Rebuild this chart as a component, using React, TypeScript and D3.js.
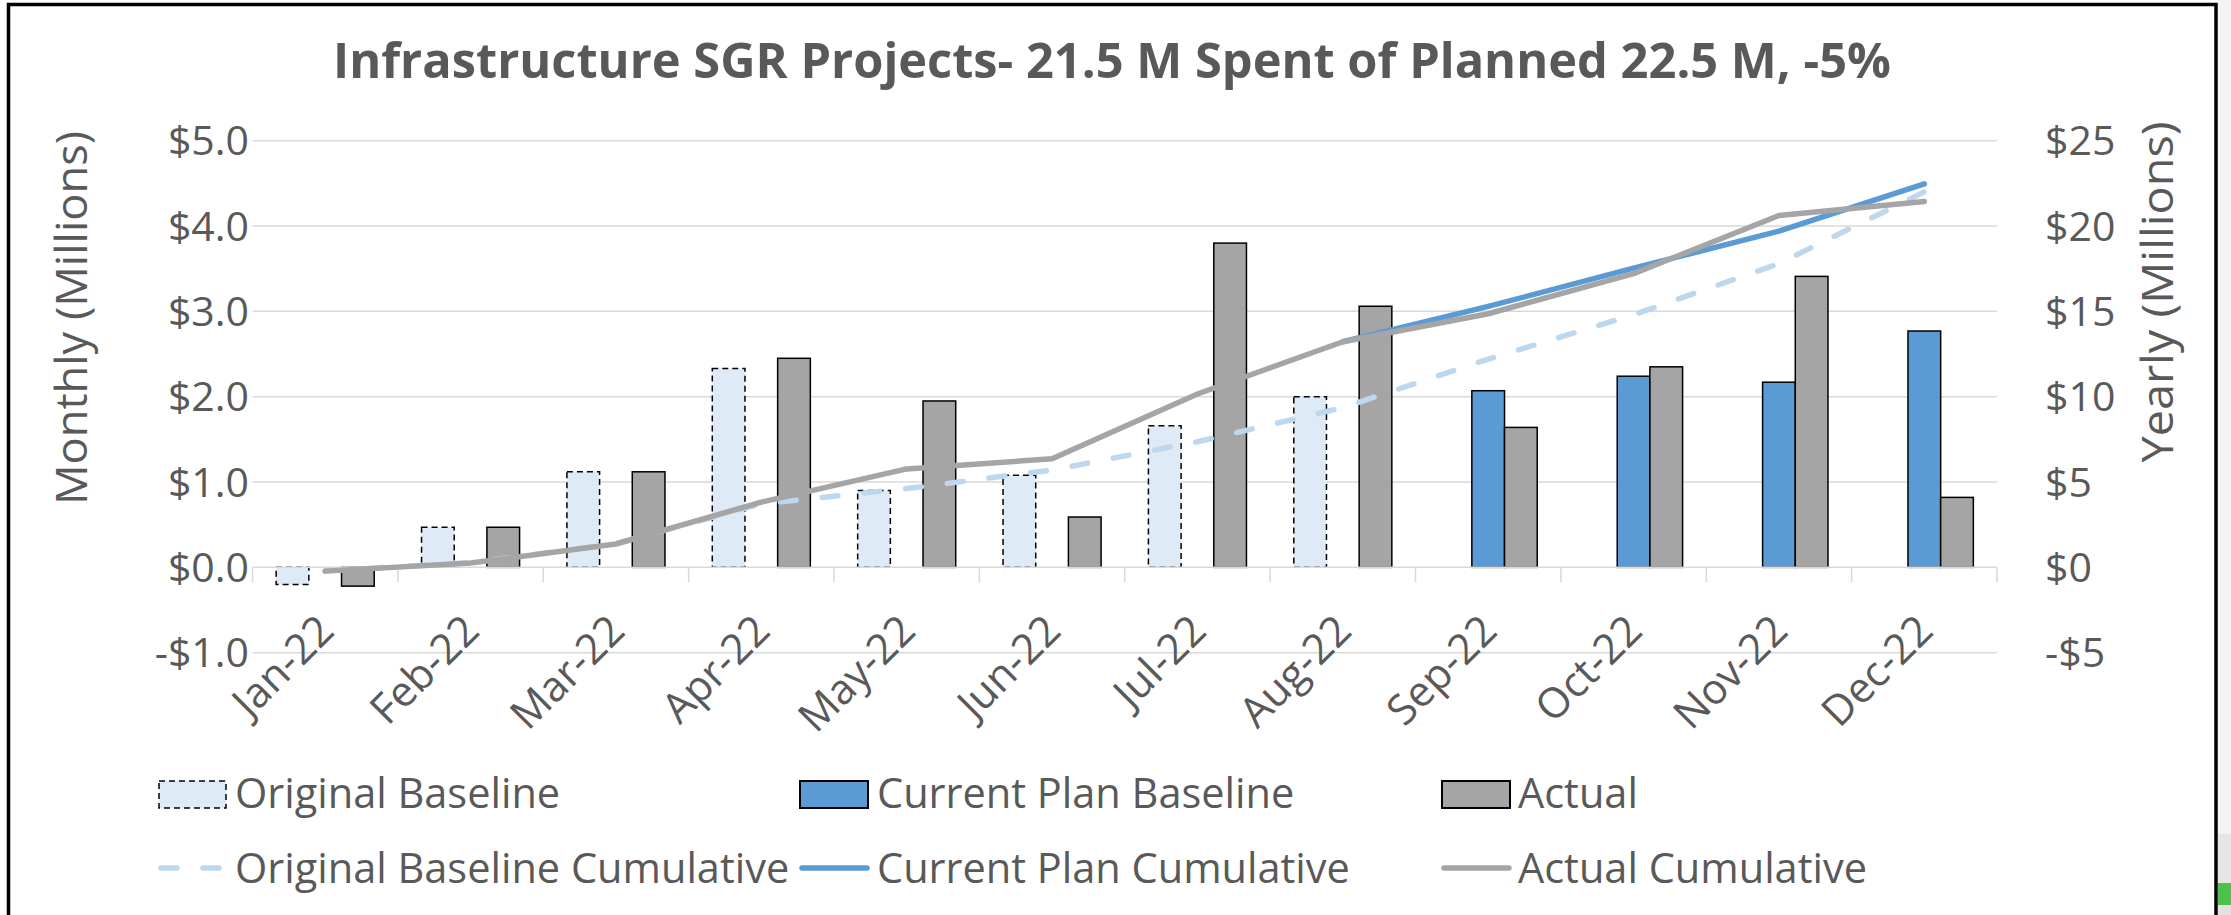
import * as d3 from 'd3';
import React from 'react';

// monthly values in $M
const months = ['Jan-22', 'Feb-22', 'Mar-22', 'Apr-22', 'May-22', 'Jun-22', 'Jul-22', 'Aug-22', 'Sep-22', 'Oct-22', 'Nov-22', 'Dec-22'];
const originalBaseline = [-0.2, 0.47, 1.12, 2.33, 0.9, 1.08, 1.66, 2.0, null, null, null, null];
const currentPlanBaseline = [null, null, null, null, null, null, null, null, 2.07, 2.24, 2.17, 2.77];
const actual = [-0.22, 0.47, 1.12, 2.45, 1.95, 0.59, 3.8, 3.06, 1.64, 2.35, 3.41, 0.82];

// cumulative values in $M (right axis)
const originalCumulative = [-0.2, 0.27, 1.39, 3.72, 4.62, 5.7, 7.36, 9.36, 12.2, 14.8, 17.8, 22.0];
const currentPlanCumulative = [null, null, null, null, null, null, null, 13.22, 15.29, 17.53, 19.7, 22.47];
const actualCumulative = [-0.22, 0.25, 1.37, 3.82, 5.77, 6.36, 10.16, 13.22, 14.86, 17.21, 20.62, 21.44];

const leftTicks = [-1, 0, 1, 2, 3, 4, 5];
const rightTicks = [-5, 0, 5, 10, 15, 20, 25];
const barSeries = ['Original Baseline', 'Current Plan Baseline', 'Actual'];

const textColor = '#595959';
const gridColor = '#d9d9d9';
const font = '"Open Sans", sans-serif';

export default function App() {
  const W = 2231, H = 915;
  const left = 252.5, right = 1997, top = 140.7, bottom = 652.7;

  const x = d3.scaleBand<string>().domain(months).range([left, right]).paddingInner(0).paddingOuter(0);
  const xs = d3.scaleBand<string>().domain(barSeries).range([0, x.bandwidth()]).paddingInner(0).paddingOuter(0.724);
  const yL = d3.scaleLinear().domain([-1, 5]).range([bottom, top]);
  const yR = d3.scaleLinear().domain([-5, 25]).range([bottom, top]);
  const cx = (i: number) => (x(months[i]) as number) + x.bandwidth() / 2;

  const line = d3.line<number | null>()
    .defined(d => d != null)
    .x((d, i) => cx(i))
    .y(d => yR(d as number));

  const barData: { key: string; vals: (number | null)[]; fill: string; dash?: string }[] = [
    { key: 'Original Baseline', vals: originalBaseline, fill: '#deebf7', dash: '6 4' },
    { key: 'Current Plan Baseline', vals: currentPlanBaseline, fill: '#5b9bd5' },
    { key: 'Actual', vals: actual, fill: '#a5a5a5' },
  ];

  const fmtL = (v: number) => (v < 0 ? '-$' : '$') + Math.abs(v).toFixed(1);
  const fmtR = (v: number) => (v < 0 ? '-$' : '$') + Math.abs(v);

  const boundaries = months.map(m => x(m) as number).concat([right]);

  return (
    <svg width={W} height={H} style={{ position: 'absolute', left: 0, top: 0, background: '#fff' }} fontFamily={font}>
      <rect x={0} y={0} width={W} height={H} fill="#fff" />
      {/* strip outside the chart frame */}
      <rect x={2218} y={0} width={13} height={834} fill="#f4f4f4" />
      <rect x={2218} y={834} width={13} height={49} fill="#e6e6e6" />
      <rect x={2218} y={883} width={13} height={22} fill="#4cc24c" />
      <rect x={2218} y={905} width={13} height={10} fill="#e2e2e2" />
      <path d={`M8.5,${H} V4.5 H2216 V${H}`} fill="none" stroke="#000" strokeWidth={3.5} />

      <text x={1112} y={78} textAnchor="middle" fontSize={49} fontWeight={700} fill={textColor}
        textLength={1558} lengthAdjust="spacingAndGlyphs">
        Infrastructure SGR Projects- 21.5 M Spent of Planned 22.5 M, -5%
      </text>

      {/* gridlines */}
      {leftTicks.filter(t => t !== 0).map(t => (
        <line key={t} x1={left} x2={right} y1={yL(t)} y2={yL(t)} stroke={gridColor} strokeWidth={1.5} />
      ))}

      {/* bars */}
      {barData.map(s => (
        <g key={s.key}>
          {s.vals.map((v, i) => v == null ? null : (
            <rect key={i}
              x={(x(months[i]) as number) + (xs(s.key) as number)}
              y={Math.min(yL(v), yL(0))}
              width={xs.bandwidth()}
              height={Math.abs(yL(v) - yL(0))}
              fill={s.fill} stroke="#000" strokeWidth={1.5}
              strokeDasharray={s.dash} />
          ))}
        </g>
      ))}

      {/* category axis */}
      <line x1={left} x2={right} y1={yL(0)} y2={yL(0)} stroke={gridColor} strokeWidth={1.5} />
      {boundaries.map((b, i) => (
        <line key={i} x1={b} x2={b} y1={yL(0)} y2={yL(0) + 15} stroke={gridColor} strokeWidth={1.5} />
      ))}

      {/* cumulative lines */}
      <path d={line(originalCumulative) || ''} fill="none" stroke="#bdd7ee" strokeWidth={5.5}
        strokeDasharray="16 26" strokeLinecap="round" strokeLinejoin="round" />
      <path d={line(currentPlanCumulative) || ''} fill="none" stroke="#5b9bd5" strokeWidth={5.5}
        strokeLinecap="round" strokeLinejoin="round" />
      <path d={line(actualCumulative) || ''} fill="none" stroke="#a5a5a5" strokeWidth={5.5}
        strokeLinecap="round" strokeLinejoin="round" />

      {/* left axis */}
      {leftTicks.map(t => (
        <text key={t} x={249} y={yL(t)} dy="0.36em" textAnchor="end" fontSize={41} fill={textColor}>{fmtL(t)}</text>
      ))}
      {/* right axis */}
      {rightTicks.map(t => (
        <text key={t} x={2045} y={yR(t)} dy="0.36em" textAnchor="start" fontSize={41} fill={textColor}>{fmtR(t)}</text>
      ))}

      <text transform="translate(87,318) rotate(-90)" textAnchor="middle" fontSize={43} fill={textColor}
        textLength={374} lengthAdjust="spacingAndGlyphs">Monthly (Millions)</text>
      <text transform="translate(2173,292) rotate(-90)" textAnchor="middle" fontSize={43} fill={textColor}
        textLength={341} lengthAdjust="spacingAndGlyphs">Yearly (Millions)</text>

      {/* month labels */}
      {months.map((m, i) => (
        <text key={m} transform={`translate(${cx(i) + 11},633) rotate(-45)`} textAnchor="end" fontSize={42} fill={textColor}>{m}</text>
      ))}

      {/* legend */}
      <g fontSize={41.5} fill={textColor}>
        <rect x={159} y={781} width={67} height={27} fill="#deebf7" stroke="#000" strokeWidth={1.5} strokeDasharray="6 4" />
        <text x={235} y={808}>Original Baseline</text>
        <rect x={800} y={781} width={68} height={27} fill="#5b9bd5" stroke="#000" strokeWidth={2} />
        <text x={877} y={808}>Current Plan Baseline</text>
        <rect x={1442} y={781} width={68} height={27} fill="#a5a5a5" stroke="#000" strokeWidth={2} />
        <text x={1518} y={808}>Actual</text>

        <line x1={161} x2={220} y1={868} y2={868} stroke="#bdd7ee" strokeWidth={5.5} strokeDasharray="16 26" strokeLinecap="round" />
        <text x={235} y={883}>Original Baseline Cumulative</text>
        <line x1={802} x2={867} y1={868} y2={868} stroke="#5b9bd5" strokeWidth={5.5} strokeLinecap="round" />
        <text x={877} y={883}>Current Plan Cumulative</text>
        <line x1={1444} x2={1509} y1={868} y2={868} stroke="#a5a5a5" strokeWidth={5.5} strokeLinecap="round" />
        <text x={1518} y={883}>Actual Cumulative</text>
      </g>
    </svg>
  );
}
